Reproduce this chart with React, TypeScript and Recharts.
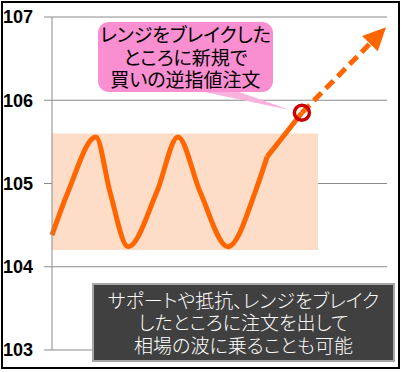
import { LineChart, Line, XAxis, YAxis, CartesianGrid, ReferenceArea, ReferenceDot } from "recharts";

// 価格軸
const Y_TICKS = [103, 104, 105, 106, 107];

// レンジ内の値動き（x は 0〜100 の時間軸）
const WAVE_X = [0, 4.8, 13.1, 17.3, 22.7, 31.3, 37.6, 44.2, 52.5, 61.2, 64.2];
const WAVE_Y = [104.38, 104.9, 105.56, 104.9, 104.24, 104.9, 105.56, 104.9, 104.24, 104.96, 105.32];

// ブレイク → 逆指値の約定点
const BREAK_X = [64.2, 74.6];
const BREAK_Y = [105.32, 105.85];

// その後の予想（点線の矢印）
const FORECAST_X = [74.6, 94.9];
const FORECAST_Y = [105.85, 106.68];

// レンジ（塗りつぶし）
const RANGE_X = [0, 79.4];
const RANGE_Y = [104.2, 105.6];

const ENTRY = { x: 74.6, y: 105.85 };

const CALLOUT_LINES = ["レンジをブレイクした", "ところに新規で", "買いの逆指値注文"];
const NOTE_LINES = ["サポートや抵抗、レンジをブレイク", "したところに注文を出して", "相場の波に乗ることも可能"];

const ORANGE = "#FF6600";
const GRID = "#8A8A8A";
const JP = '"Noto Sans CJK JP", sans-serif';

const toRows = (xs: number[], ys: number[]) => xs.map((x, i) => ({ x, y: ys[i] }));

// 矢印の先端: 1点目の位置を覚えておき、2点目で向きを決める
let prev = { x: 0, y: 0 };
const ArrowHead = (p: any) => {
  const { cx, cy, index } = p;
  if (index === 0) {
    prev = { x: cx, y: cy };
    return <g key="ah0" />;
  }
  const dx = cx - prev.x, dy = cy - prev.y;
  const len = Math.hypot(dx, dy) || 1;
  const ux = dx / len, uy = dy / len;
  const L = 23, W = 11;
  const pts = [
    [cx + ux * L, cy + uy * L],
    [cx - uy * W, cy + ux * W],
    [cx + uy * W, cy - ux * W],
  ];
  return <polygon key="ah1" points={pts.map((q) => q.join(",")).join(" ")} fill={ORANGE} />;
};

export default function App() {
  return (
    <div style={{ position: "absolute", left: 0, top: 0, width: 402, height: 372, background: "#fff" }}>
      <LineChart width={402} height={372} margin={{ top: 17, right: 15, bottom: 22, left: 0 }}>
        <CartesianGrid horizontal vertical={false} stroke={GRID} strokeDasharray="" />
        <XAxis type="number" dataKey="x" domain={[0, 100]} hide />
        <YAxis
          type="number"
          domain={[103, 107]}
          ticks={Y_TICKS}
          width={52}
          stroke={GRID}
          tickSize={8}
          tickMargin={11}
          tick={{ fill: "#000", fontSize: 18, fontWeight: 700, fontFamily: "Liberation Sans" }}
        />
        <ReferenceArea x1={RANGE_X[0]} x2={RANGE_X[1]} y1={RANGE_Y[0]} y2={RANGE_Y[1]}
          fill="#FDDCC8" fillOpacity={1} stroke="none" />
        <Line data={toRows(WAVE_X, WAVE_Y)} dataKey="y" type="monotone" stroke={ORANGE}
          strokeWidth={5} dot={false} isAnimationActive={false} />
        <Line data={toRows(BREAK_X, BREAK_Y)} dataKey="y" type="linear" stroke={ORANGE}
          strokeWidth={5} dot={false} isAnimationActive={false} />
        <Line data={toRows(FORECAST_X, FORECAST_Y)} dataKey="y" type="linear" stroke={ORANGE}
          strokeWidth={5} strokeDasharray="11 6" dot={ArrowHead} isAnimationActive={false} />
        <ReferenceDot x={ENTRY.x} y={ENTRY.y} r={7.5} fill="none" stroke="#CC0000" strokeWidth={3.5} />
      </LineChart>

      {/* 吹き出しのしっぽ */}
      <svg width={402} height={372} style={{ position: "absolute", left: 0, top: 0, pointerEvents: "none" }}>
        <polygon points="185,88 228,88 290,110" fill="#F9B2DC" />
      </svg>

      <div style={{
        position: "absolute", left: 98, top: 22, width: 175, height: 70, background: "#F98ED0",
        borderRadius: 11, fontFamily: JP, fontSize: 19, lineHeight: "22.5px", color: "#000",
        textAlign: "center", display: "flex", flexDirection: "column", justifyContent: "center",
        fontFeatureSettings: '"palt"',
      }}>
        {CALLOUT_LINES.map((t) => <div key={t}>{t}</div>)}
      </div>

      <div style={{
        position: "absolute", left: 92, top: 283, width: 303, height: 79, boxSizing: "border-box",
        background: "#404040", border: "2px solid #A6A6A6", color: "#fff", fontFamily: JP,
        fontSize: 19, fontWeight: 300, lineHeight: "22.5px", textAlign: "center", display: "flex",
        flexDirection: "column", justifyContent: "center", fontFeatureSettings: '"palt"',
      }}>
        {NOTE_LINES.map((t) => <div key={t}>{t}</div>)}
      </div>

      <div style={{
        position: "absolute", left: 1, top: 1, width: 399, height: 368, boxSizing: "border-box",
        border: "2px solid #000", pointerEvents: "none",
      }} />
    </div>
  );
}
